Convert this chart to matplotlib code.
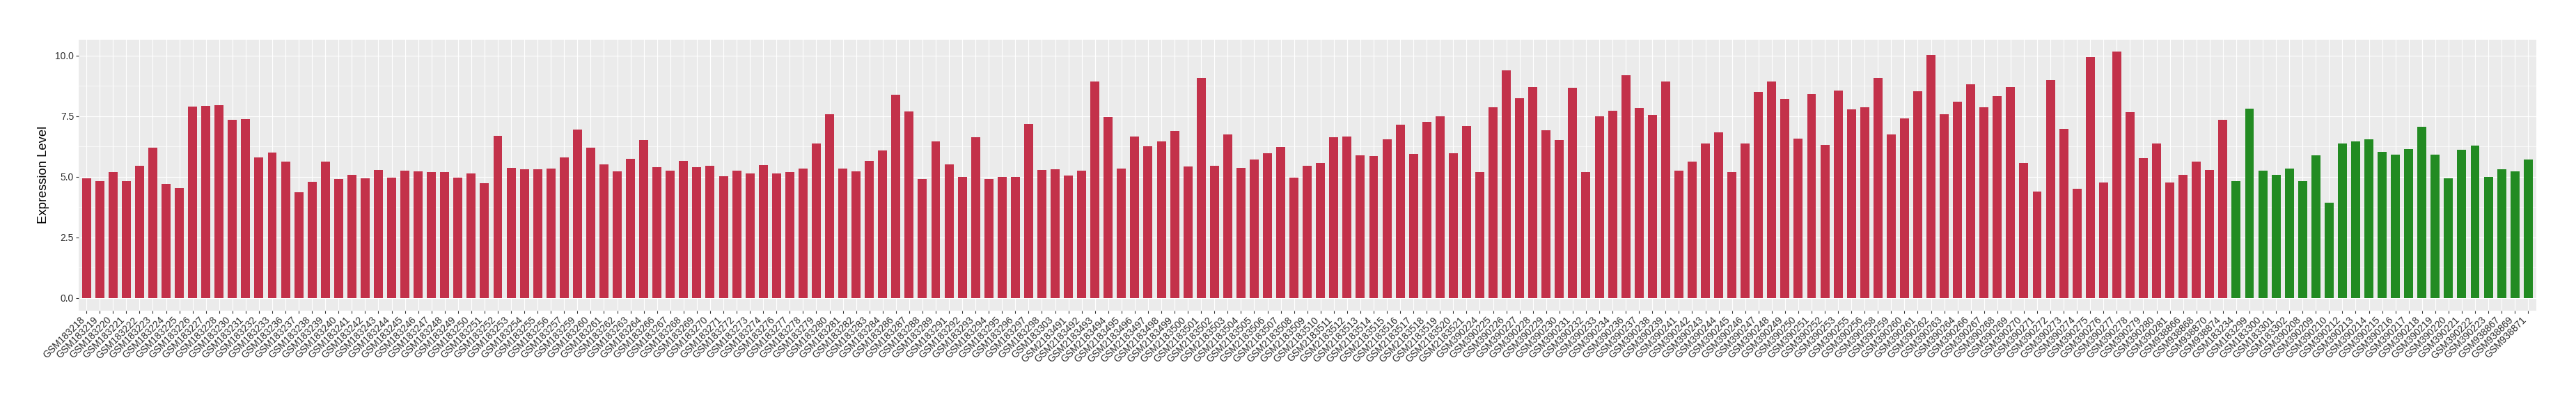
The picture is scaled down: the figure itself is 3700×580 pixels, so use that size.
import matplotlib
matplotlib.use("Agg")
import matplotlib.pyplot as plt
from matplotlib.ticker import MultipleLocator

# sample ids (GSM numbers), red group first, then green group
red_ids = [
    183218, 183219, 183220, 183221, 183222, 183223, 183224, 183225, 183226, 183227, 183228,
    183230, 183231, 183232, 183233, 183236, 183237, 183238, 183239, 183240, 183241, 183242,
    183243, 183244, 183245, 183246, 183247, 183248, 183249, 183250, 183251, 183252, 183253,
    183254, 183255, 183256, 183257, 183259, 183260, 183261, 183262, 183263, 183264, 183266,
    183267, 183268, 183269, 183270, 183271, 183272, 183273, 183274, 183276, 183277, 183278,
    183279, 183280, 183281, 183282, 183283, 183284, 183286, 183287, 183288, 183289, 183291,
    183292, 183293, 183294, 183295, 183296, 183297, 183298, 183303,
    2183491, 2183492, 2183493, 2183494, 2183495, 2183496, 2183497, 2183498, 2183499, 2183500,
    2183501, 2183502, 2183503, 2183504, 2183505, 2183506, 2183507, 2183508, 2183509, 2183510,
    2183511, 2183512, 2183513, 2183514, 2183515, 2183516, 2183517, 2183518, 2183519, 2183520,
    2183521,
    390224, 390225, 390226, 390227, 390228, 390229, 390230, 390231, 390232, 390233, 390234,
    390236, 390237, 390238, 390239, 390241, 390242, 390243, 390244, 390245, 390246, 390247,
    390248, 390249, 390250, 390251, 390252, 390253, 390255, 390256, 390258, 390259, 390260,
    390261, 390262, 390263, 390264, 390266, 390267, 390268, 390269, 390270, 390271, 390272,
    390273, 390274, 390275, 390276, 390277, 390278, 390279, 390280, 390281,
    938866, 938868, 938870, 938874,
]
green_ids = [
    183234, 183299, 183300, 183301, 183302, 390208, 390209, 390210, 390212, 390213, 390214,
    390215, 390216, 390217, 390218, 390219, 390220, 390221, 390222, 390223,
    938867, 938869, 938871,
]

red_values = [
    4.95, 4.84, 5.21, 4.84, 5.47, 6.21, 4.70, 4.55, 7.89, 7.93, 7.96, 7.35, 7.39, 5.81, 6.01,
    5.64, 4.38, 4.80, 5.64, 4.90, 5.09, 4.95, 5.29, 4.98, 5.27, 5.24,
    5.21, 5.21, 4.98, 5.15, 4.75, 6.70, 5.38, 5.32, 5.32, 5.35, 5.81, 6.95, 6.21, 5.52, 5.24,
    5.76, 6.53, 5.41, 5.27, 5.67, 5.41, 5.47, 5.04, 5.27, 5.15, 5.49, 5.15, 5.19,
    5.35, 6.38, 7.59, 5.35, 5.24, 5.67, 6.10, 8.38, 7.69, 4.92, 6.47, 5.52, 5.01, 6.63, 4.92,
    5.01, 5.01, 7.19, 5.29, 5.32, 5.07, 5.27, 8.93, 7.47, 5.35, 6.67, 6.26, 6.47, 6.90,
    5.44, 9.07, 5.47, 6.75, 5.38, 5.72, 5.98, 6.24, 4.98, 5.47, 5.56, 6.63, 6.67, 5.89, 5.86,
    6.55, 7.15, 5.96, 7.27, 7.50, 5.98, 7.10, 5.19, 7.87, 9.39, 8.24, 8.70, 6.92, 6.53,
    8.67, 5.19, 7.50, 7.72, 9.19, 7.84, 7.56, 8.95, 5.27, 5.64, 6.38, 6.84, 5.21, 6.38, 8.50,
    8.93, 8.21, 6.58, 8.41, 6.33, 8.56, 7.79, 7.87, 9.07, 6.75, 7.41, 8.53, 10.04, 7.59,
    8.10, 8.81, 7.87, 8.33, 8.70, 5.56, 4.41, 8.98, 6.98, 4.52, 9.93, 4.78, 10.16, 7.67, 5.78,
    6.38, 4.78, 5.09, 5.64, 5.29, 7.35,
]
green_values = [
    4.84, 7.81, 5.27, 5.09, 5.35, 4.84, 5.89, 3.93, 6.38, 6.47, 6.55, 6.04, 5.93, 6.15, 7.07,
    5.93, 4.95, 6.13, 6.30, 5.01, 5.32, 5.24, 5.72,
]

RED = "#C3314A"
GREEN = "#228B22"

labels = [f"GSM{i}" for i in red_ids + green_ids]
values = red_values + green_values
colors = [RED] * len(red_values) + [GREEN] * len(green_values)
x = list(range(len(values)))

plt.rcParams["font.family"] = ["Liberation Sans", "DejaVu Sans"]

fig = plt.figure(figsize=(37, 5.8), dpi=100, facecolor="white")
ax = fig.add_axes([0.03046, 0.2316, 0.95405, 0.6706])
ax.set_facecolor("#EBEBEB")

ax.bar(x, values, width=0.68, color=colors, zorder=3)

ax.set_xlim(-0.6, len(values) - 0.4)
ax.set_ylim(-0.508, 10.668)
ax.yaxis.set_minor_locator(MultipleLocator(1.25))
ax.set_yticks([0, 2.5, 5, 7.5, 10])
ax.set_yticklabels(["0.0", "2.5", "5.0", "7.5", "10.0"])

ax.set_xticks(x)
ax.set_xticklabels(labels, rotation=45, ha="right", va="top")

ax.grid(which="major", axis="both", color="white", linewidth=0.85, zorder=0)
ax.grid(which="minor", axis="y", color="white", linewidth=0.45, zorder=0)
ax.set_axisbelow(True)
for s in ax.spines.values():
    s.set_visible(False)

ax.tick_params(axis="both", which="major", length=2.6, width=0.8, color="#333333",
               labelsize=10, labelcolor="#2B2B2B", pad=2.2)
ax.tick_params(axis="y", which="minor", length=0)
ax.set_ylabel("Expression Level", fontsize=13.2, color="black", labelpad=6)

fig.savefig("out.png", dpi=100, facecolor="white")
